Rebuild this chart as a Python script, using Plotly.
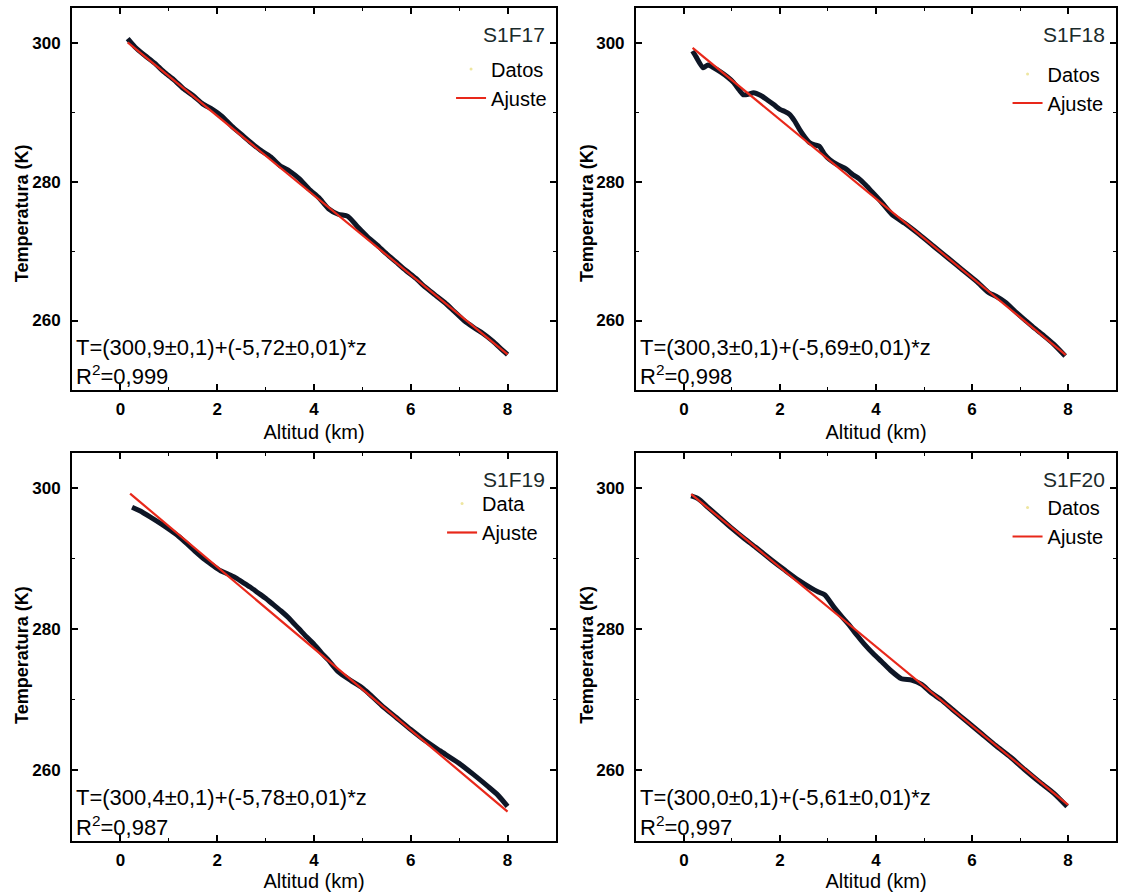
import numpy as np
import plotly.graph_objects as go

FONT = "Liberation Sans, Arial, sans-serif"

# Sounding labels and legend text for the measured profile
NAMES = ["S1F17", "S1F18", "S1F19", "S1F20"]
DATA_LABELS = ["Datos", "Datos", "Data", "Datos"]

# Linear fit results T = a + b*z
INTERCEPTS = [300.9, 300.3, 300.4, 300.0]
INTERCEPT_ERR = [0.1, 0.1, 0.1, 0.1]
SLOPES = [-5.72, -5.69, -5.78, -5.61]
SLOPE_ERR = [0.01, 0.01, 0.01, 0.01]
R2 = ["0,999", "0,998", "0,987", "0,997"]
FIT_RANGES = [(0.15, 8.0), (0.18, 7.95), (0.2, 8.0), (0.15, 8.0)]

# Measured profiles: altitude (km) and temperature (K)
Z17 = [0.15, 0.3, 0.5, 0.7, 0.9, 1.1, 1.3, 1.5, 1.7, 1.9, 2.1, 2.3, 2.5, 2.7, 2.9,
       3.1, 3.3, 3.5, 3.7, 3.9, 4.1, 4.3, 4.5, 4.7, 4.9, 5.1, 5.3, 5.5, 5.7, 5.9,
       6.1, 6.3, 6.5, 6.7, 6.9, 7.1, 7.3, 7.5, 7.7, 7.9, 8.0]
T17 = [300.6, 299.4, 298.2, 297.1, 295.8, 294.7, 293.4, 292.4, 291.2, 290.4, 289.4,
       288.0, 286.8, 285.6, 284.5, 283.6, 282.3, 281.5, 280.4, 278.9, 277.7, 276.1,
       275.3, 275.0, 273.5, 272.1, 270.9, 269.6, 268.4, 267.2, 266.1, 264.8, 263.7,
       262.6, 261.3, 260.0, 259.0, 258.1, 257.0, 255.7, 255.1]

Z18 = [0.18, 0.25, 0.4, 0.5, 0.62, 0.76, 0.9, 1.03, 1.15, 1.24, 1.35, 1.45, 1.6, 1.73,
       1.87, 2.0, 2.1, 2.2, 2.3, 2.41, 2.52, 2.62, 2.72, 2.82, 2.92, 3.03, 3.18, 3.38,
       3.52, 3.65, 3.8, 3.92, 4.12, 4.33, 4.6, 4.9, 5.2, 5.5, 5.8, 6.1, 6.35, 6.5, 6.7,
       6.9, 7.1, 7.3, 7.5, 7.7, 7.94]
T18 = [298.8, 298.0, 296.4, 296.8, 296.4, 295.8, 295.1, 294.3, 293.2, 292.5, 292.6,
       292.8, 292.4, 291.8, 291.1, 290.4, 290.1, 289.7, 288.8, 287.5, 286.4, 285.6,
       285.3, 285.1, 284.0, 283.2, 282.5, 281.8, 281.0, 280.4, 279.4, 278.5, 277.0,
       275.3, 274.0, 272.4, 270.7, 269.0, 267.3, 265.6, 264.0, 263.5, 262.6, 261.3,
       260.1, 258.9, 257.8, 256.6, 254.9]

Z19 = [0.24, 0.4, 0.62, 0.85, 1.04, 1.2, 1.38, 1.55, 1.72, 1.9, 2.07, 2.2, 2.36,
       2.52, 2.68, 2.84, 3.0, 3.16, 3.32, 3.48, 3.56, 3.7, 3.85, 4.0, 4.15, 4.29, 4.5,
       4.77, 5.0, 5.12, 5.4, 5.7, 6.0, 6.3, 6.6, 7.0, 7.3, 7.6, 7.8, 8.0]
T19 = [297.3, 296.8, 295.9, 294.9, 294.0, 293.2, 292.1, 291.0, 290.0, 289.1, 288.3,
       287.9, 287.4, 286.7, 286.0, 285.2, 284.4, 283.5, 282.6, 281.6, 281.0, 280.0,
       278.9, 277.9, 276.7, 275.7, 274.0, 272.7, 271.7, 271.0, 269.2, 267.5, 265.8,
       264.2, 262.8, 261.0, 259.4, 257.7, 256.5, 254.9]

Z20 = [0.15, 0.3, 0.5, 0.75, 1.0, 1.25, 1.5, 1.83, 2.1, 2.4, 2.66, 2.8, 2.93, 3.14, 3.3,
       3.43, 3.6, 3.77, 3.95, 4.12, 4.3, 4.53, 4.74, 4.95, 5.15, 5.36, 5.6, 5.9, 6.2,
       6.5, 6.8, 7.1, 7.4, 7.7, 7.98]
T20 = [298.9, 298.5, 297.3, 295.8, 294.3, 292.9, 291.6, 289.8, 288.4, 286.9, 285.8,
       285.3, 284.9, 283.0, 281.7, 280.7, 279.2, 277.8, 276.5, 275.4, 274.2, 273.0,
       272.8, 272.2, 271.0, 270.0, 268.6, 266.9, 265.2, 263.5, 261.9, 260.1, 258.4,
       256.8, 254.9]

ZS = [Z17, Z18, Z19, Z20]
TS = [T17, T18, T19, T20]

# Panel placement (2 x 2 grid)
X_DOMAINS = [[0.0642, 0.4955], [0.5668, 0.9947], [0.0642, 0.4955], [0.5668, 0.9947]]
Y_DOMAINS = [[0.5628, 0.991], [0.5628, 0.991], [0.0572, 0.4922], [0.0572, 0.4922]]
LEGEND_POS = [(0.402, 0.9445), (0.898, 0.9389), (0.394, 0.4574), (0.898, 0.4529)]
YTITLE_POS = [(0.0196, 0.761), (0.523, 0.761), (0.0196, 0.2657), (0.523, 0.2657)]

DATA_COLOR = "#0e1626"
FIT_COLOR = "#e8281a"


def comma(v, nd):
    return f"{v:.{nd}f}".replace(".", ",")


fig = go.Figure()
annotations = []
layout_axes = {}

for i in range(4):
    n = "" if i == 0 else str(i + 1)
    xr, yr = "x" + n, "y" + n
    leg = "legend" + n

    fig.add_trace(go.Scatter(
        x=ZS[i], y=TS[i], mode="lines", xaxis=xr, yaxis=yr,
        line=dict(color=DATA_COLOR, width=5, shape="spline", smoothing=0.6),
        showlegend=False, hoverinfo="skip"))
    # legend key for the measured data (small pale dot)
    fig.add_trace(go.Scatter(
        x=[None], y=[None], mode="markers", xaxis=xr, yaxis=yr,
        marker=dict(size=3, color="#eee6a0"), name=DATA_LABELS[i], legend=leg))

    a, b = INTERCEPTS[i], SLOPES[i]
    zf = np.array(FIT_RANGES[i])
    fig.add_trace(go.Scatter(
        x=zf, y=a + b * zf, mode="lines", xaxis=xr, yaxis=yr,
        line=dict(color=FIT_COLOR, width=2.2), name="Ajuste", legend=leg))

    common = dict(showline=True, linecolor="black", linewidth=2, mirror="ticks",
                  ticks="inside", ticklen=6, tickwidth=1.5, tickcolor="black",
                  showgrid=False, zeroline=False,
                  minor=dict(ticks="inside", ticklen=3, tickwidth=1.2, tickcolor="black"),
                  tickfont=dict(size=17, color="black", family=FONT, weight="bold"))
    layout_axes["xaxis" + n] = dict(
        common, domain=X_DOMAINS[i], anchor=yr, range=[-1, 9], tick0=0, dtick=2,
        minor=dict(common["minor"], dtick=1), ticklabelstandoff=3,
        title=dict(text="Altitud (km)", standoff=7,
                   font=dict(size=20, color="black", family=FONT)))
    layout_axes["yaxis" + n] = dict(
        common, domain=Y_DOMAINS[i], anchor=xr, range=[250, 305], tick0=260, dtick=20,
        minor=dict(common["minor"], dtick=10), ticklabelstandoff=6)
    lx, ly = LEGEND_POS[i]
    layout_axes[leg] = dict(x=lx, y=ly, xanchor="left", yanchor="top",
                            bgcolor="rgba(0,0,0,0)", borderwidth=0, itemwidth=30,
                            tracegroupgap=0,
                            font=dict(size=20, color="black", family=FONT))

    eq = (f"T=({comma(a, 1)}±{comma(INTERCEPT_ERR[i], 1)})+"
          f"({comma(b, 2)}±{comma(SLOPE_ERR[i], 2)})*z")
    tx, ty = YTITLE_POS[i]
    annotations += [
        dict(text="Temperatura (K)", xref="paper", yref="paper", x=tx, y=ty,
             textangle=-90, xanchor="center", yanchor="middle", showarrow=False,
             font=dict(size=18, color="black", family=FONT, weight="bold")),
        dict(text=NAMES[i], xref=xr + " domain", yref=yr + " domain", x=0.981, y=0.932,
             xanchor="right", yanchor="middle", showarrow=False,
             font=dict(size=21, color="#1a2a2a", family=FONT)),
        dict(text=eq, xref=xr + " domain", yref=yr + " domain", x=0.004, y=0.112,
             xanchor="left", yanchor="middle", showarrow=False,
             font=dict(size=22, color="black", family=FONT)),
        dict(text=f"R<sup>2</sup>={R2[i]}", xref=xr + " domain", yref=yr + " domain",
             x=0.004, y=0.039, xanchor="left", yanchor="middle", showarrow=False,
             font=dict(size=22, color="black", family=FONT)),
    ]

fig.update_layout(
    width=1122, height=892, margin=dict(l=0, r=0, t=0, b=0),
    paper_bgcolor="white", plot_bgcolor="white",
    font=dict(family=FONT, color="black"),
    annotations=annotations, **layout_axes)

fig.write_html("out.html")
